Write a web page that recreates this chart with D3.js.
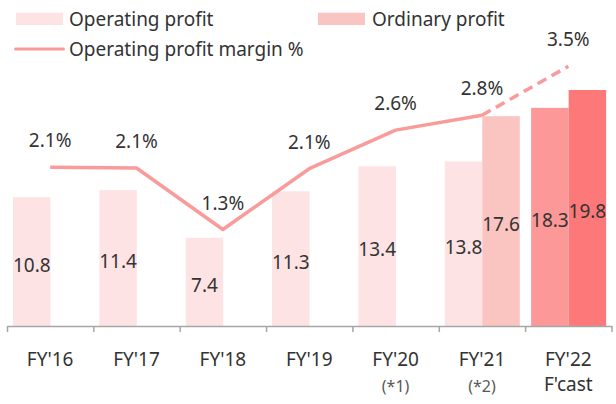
<!DOCTYPE html>
<html><head><meta charset="utf-8">
<script src="https://cdn.jsdelivr.net/npm/d3@7"></script>
<style>html,body{margin:0;padding:0;background:#fff;}svg{display:block;font-family:"Noto Sans",sans-serif;}</style>
</head><body>
<svg id="chart" width="616" height="404"></svg>
<script>
const categories = ["FY'16","FY'17","FY'18","FY'19","FY'20","FY'21","FY'22"];
const subLabels = ["","","","","(*1)","(*2)","F'cast"];
const operatingProfit = [10.8, 11.4, 7.4, 11.3, 13.4, 13.8, 18.3];
const ordinaryProfit = [null, null, null, null, null, 17.6, 19.8];
const marginPct = [2.14, 2.13, 1.30, 2.12, 2.64, 2.84, 3.50];
const forecastIndex = 6;

const svg = d3.select("#chart");
const textColor = "#333";
const fs = 19;

const x = d3.scaleBand().domain(categories).range([7, 611.5]).padding(0);
const slot = d3.scaleBand().domain(["op","ord"]).range([6, 81]).padding(0);
const y = d3.scaleLinear().domain([0, 20]).range([326, 87.6]);
const y2 = d3.scaleLinear().domain([0, 4]).range([326, 29.2]);

const opColor = (i) => i === forecastIndex ? "#fc9898" : "#fde3e3";
const ordColor = (i) => i === forecastIndex ? "#fd7878" : "#fac4c1";

const data = categories.map((c, i) => ({c, i, op: operatingProfit[i], ord: ordinaryProfit[i]}));

// bars
const g = svg.append("g");
data.forEach(d => {
  const bx = x(d.c);
  g.append("rect").attr("x", bx + slot("op")).attr("width", slot.bandwidth())
    .attr("y", y(d.op)).attr("height", y(0) - y(d.op)).attr("fill", opColor(d.i));
  if (d.ord != null) {
    g.append("rect").attr("x", bx + slot("ord")).attr("width", slot.bandwidth())
      .attr("y", y(d.ord)).attr("height", y(0) - y(d.ord)).attr("fill", ordColor(d.i));
  }
});
// bar labels
data.forEach(d => {
  const bx = x(d.c);
  g.append("text").attr("x", bx + slot("op") + slot.bandwidth()/2)
    .attr("y", (y(d.op) + y(0))/2 + 10).attr("text-anchor","middle")
    .attr("font-size", fs).attr("fill", textColor).text(d.op.toFixed(1));
  if (d.ord != null) {
    g.append("text").attr("x", bx + slot("ord") + slot.bandwidth()/2)
      .attr("y", (y(d.ord) + y(0))/2 + 10).attr("text-anchor","middle")
      .attr("font-size", fs).attr("fill", textColor).text(d.ord.toFixed(1));
  }
});

// axis
const idx = d3.scaleLinear().domain([0, categories.length]).range(x.range());
const axis = svg.append("g").attr("transform", "translate(0,326)")
  .call(d3.axisBottom(idx).tickValues(d3.range(categories.length + 1)).tickSize(6).tickSizeOuter(0).tickFormat(""));
axis.select(".domain").attr("stroke", "#a6a6a6").attr("stroke-width", 1.5);
axis.selectAll(".tick line").attr("stroke", "#a6a6a6").attr("stroke-width", 1.5);

const labG = svg.append("g");
categories.forEach((c, i) => {
  const cx = x(c) + x.bandwidth()/2;
  labG.append("text").attr("x", cx).attr("y", 366).attr("text-anchor","middle")
    .attr("font-size", fs).attr("fill", textColor).text(c);
  if (subLabels[i]) {
    const isF = i === forecastIndex;
    labG.append("text").attr("x", cx).attr("y", isF ? 391 : 392).attr("text-anchor","middle")
      .attr("font-size", isF ? fs : 16).attr("fill", isF ? textColor : "#595959").text(subLabels[i]);
  }
});

// margin line
const pts = marginPct.map((v, i) => [x(categories[i]) + x.bandwidth()/2, y2(v)]);
const line = d3.line();
svg.append("path").attr("d", line(pts.slice(0, forecastIndex)))
  .attr("fill","none").attr("stroke","#fa9b9b").attr("stroke-width",3.5).attr("stroke-linejoin","round");
svg.append("path").attr("d", line(pts.slice(forecastIndex - 1)))
  .attr("fill","none").attr("stroke","#fa9b9b").attr("stroke-width",3.5).attr("stroke-dasharray","10,6");
marginPct.forEach((v, i) => {
  svg.append("text").attr("x", pts[i][0]).attr("y", pts[i][1] - 20).attr("text-anchor","middle")
    .attr("font-size", fs).attr("fill", textColor).text(v.toFixed(1) + "%");
});

// legend
const lg = svg.append("g");
lg.append("rect").attr("x",16).attr("y",12.7).attr("width",47).attr("height",12.3).attr("fill","#fde3e3");
lg.append("text").attr("x",69).attr("y",26).attr("font-size",fs).attr("fill",textColor).text("Operating profit");
lg.append("rect").attr("x",318).attr("y",12.7).attr("width",47).attr("height",12.3).attr("fill","#fac4c1");
lg.append("text").attr("x",372).attr("y",26).attr("font-size",fs).attr("fill",textColor).text("Ordinary profit");
lg.append("line").attr("x1",15.5).attr("x2",63.5).attr("y1",49).attr("y2",49).attr("stroke","#fa9b9b").attr("stroke-width",3).attr("stroke-linecap","round");
lg.append("text").attr("x",69).attr("y",56).attr("font-size",fs).attr("fill",textColor).text("Operating profit margin %");
</script>
</body></html>
